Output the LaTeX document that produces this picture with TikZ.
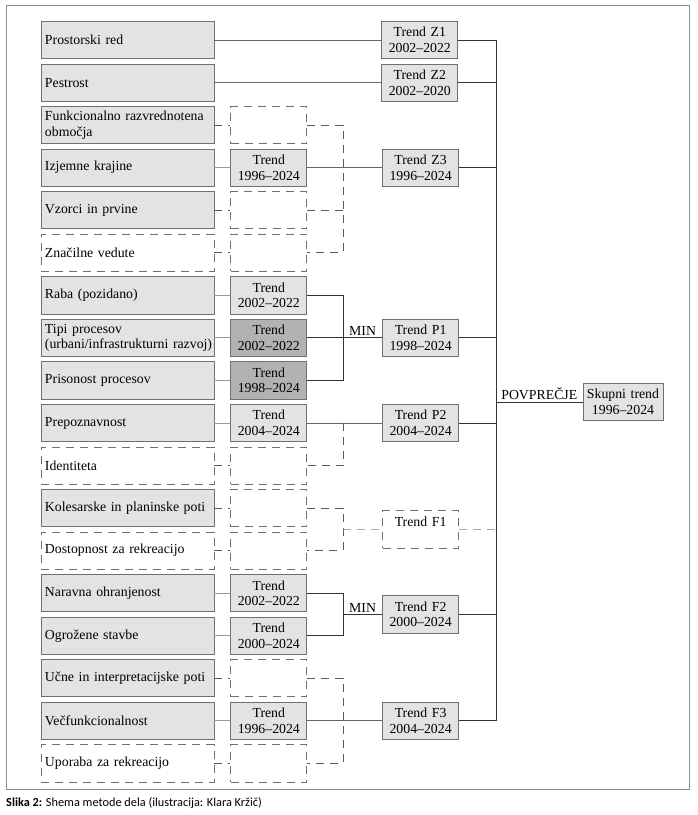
\documentclass[tikz,border=0pt]{standalone}
\usepackage{fontspec}
\setmainfont{Liberation Serif}
\newfontfamily\capfont{Carlito}
\usepackage{xcolor}
\usepackage{tikz}
\usetikzlibrary{positioning,calc}
\definecolor{edge}{HTML}{707070}
\definecolor{boxfill}{HTML}{E3E3E3}
\definecolor{boxdark}{HTML}{B2B2B2}
\definecolor{wire}{HTML}{9A9A9A}
\definecolor{trunk}{HTML}{333333}
\definecolor{ghost}{HTML}{A8A8A8}
\definecolor{frame}{HTML}{8C8C8C}

\begin{document}
\begin{tikzpicture}[
  x=1pt, y=-1pt,
  node distance=4.55pt,
  font=\fontsize{13.8}{15.5}\selectfont,
  lbox/.style={rectangle, draw=edge, fill=boxfill, line width=0.8pt, align=left, text width=165pt, inner xsep=4pt, inner ysep=1pt, minimum height=37.2pt},
  lboxdash/.style={lbox, fill=white, dash pattern=on 8pt off 6pt},
  tbox/.style={rectangle, draw=edge, fill=boxfill, line width=0.8pt, align=center, text width=72pt, inner xsep=2pt, inner ysep=1pt, minimum height=37.2pt},
  tboxdark/.style={tbox, fill=boxdark},
  tboxdash/.style={tbox, fill=white, dash pattern=on 8pt off 6pt},
  link/.style={draw=wire, line width=0.8pt},
  feed/.style={draw=trunk!75, line width=0.8pt},
  trunkline/.style={draw=trunk, line width=0.9pt},
  dashlink/.style={draw=trunk!80, line width=0.8pt, dash pattern=on 8pt off 6pt},
  ghostlink/.style={draw=ghost, line width=1pt, dash pattern=on 8pt off 6pt},
  tag/.style={inner sep=1.5pt, above}
]
\useasboundingbox (0,0) rectangle (698,815);
\draw[frame, line width=0.8pt] (6,5) rectangle (689,789);

% left column
\node[lbox] (l1) at (127.5,40) {Prostorski red};
\node[lbox, below=of l1] (l2) {Pestrost};
\node[lbox, below=of l2] (l3) {Funkcionalno razvrednotena\\območja};
\node[lbox, below=of l3] (l4) {Izjemne krajine};
\node[lbox, below=of l4] (l5) {Vzorci in prvine};
\node[lboxdash, below=of l5] (l6) {Značilne vedute};
\node[lbox, below=of l6] (l7) {Raba (pozidano)};
\node[lbox, below=of l7] (l8) {Tipi procesov\\\mbox{(urbani/infrastrukturni razvoj)}};
\node[lbox, below=of l8] (l9) {Prisonost procesov};
\node[lbox, below=of l9] (l10) {Prepoznavnost};
\node[lboxdash, below=of l10] (l11) {Identiteta};
\node[lbox, below=of l11] (l12) {Kolesarske in planinske poti};
\node[lboxdash, below=of l12] (l13) {Dostopnost za rekreacijo};
\node[lbox, below=of l13] (l14) {Naravna ohranjenost};
\node[lbox, below=of l14] (l15) {Ogrožene stavbe};
\node[lbox, below=of l15] (l16) {Učne in interpretacijske poti};
\node[lbox, below=of l16] (l17) {Večfunkcionalnost};
\node[lboxdash, below=of l17] (l18) {Uporaba za rekreacijo};

% indicator trends
\node[tboxdash, right=16pt of l3] (t3) {};
\node[tbox, right=16pt of l4] (t4) {Trend\\1996–2024};
\node[tboxdash, right=16pt of l5] (t5) {};
\node[tboxdash, right=16pt of l6] (t6) {};
\node[tbox, right=16pt of l7] (t7) {Trend\\2002–2022};
\node[tboxdark, right=16pt of l8] (t8) {Trend\\2002–2022};
\node[tboxdark, right=16pt of l9] (t9) {Trend\\1998–2024};
\node[tbox, right=16pt of l10] (t10) {Trend\\2004–2024};
\node[tboxdash, right=16pt of l11] (t11) {};
\node[tboxdash, right=16pt of l12] (t12) {};
\node[tboxdash, right=16pt of l13] (t13) {};
\node[tbox, right=16pt of l14] (t14) {Trend\\2002–2022};
\node[tbox, right=16pt of l15] (t15) {Trend\\2000–2024};
\node[tboxdash, right=16pt of l16] (t16) {};
\node[tbox, right=16pt of l17] (t17) {Trend\\1996–2024};
\node[tboxdash, right=16pt of l18] (t18) {};

% group trends
\node[tbox, right=167pt of l1] (z1) {Trend Z1\\2002–2022};
\node[tbox, right=167pt of l2] (z2) {Trend Z2\\2002–2020};
\node[tbox, right=75pt of t4] (z3) {Trend Z3\\1996–2024};
\node[tbox, right=75pt of t8] (p1) {Trend P1\\1998–2024};
\node[tbox, right=75pt of t10] (p2) {Trend P2\\2004–2024};
\node[tboxdash, anchor=west, xshift=75pt] (f1) at ($(t12.east)!0.5!(t13.east)$) {Trend F1\\\mbox{}};
\node[tbox, anchor=west, xshift=75pt] (f2) at ($(t14.east)!0.5!(t15.east)$) {Trend F2\\2000–2024};
\node[tbox, right=75pt of t17] (f3) {Trend F3\\2004–2024};
\node[tbox, text width=76pt] (total) at (623,402) {Skupni trend\\1996–2024};

\coordinate (minx) at (343,0);
\coordinate (coll) at (496,0);

% indicators to trends
\draw[feed] (l1) -- (z1);
\draw[feed] (l2) -- (z2);
\draw[dashlink] (l3) -- (t3);
\draw[link] (l4) -- (t4);
\draw[dashlink] (l5) -- (t5);
\draw[dashlink] (l6) -- (t6);
\draw[link] (l7) -- (t7);
\draw[link] (l8) -- (t8);
\draw[link] (l9) -- (t9);
\draw[link] (l10) -- (t10);
\draw[dashlink] (l11) -- (t11);
\draw[dashlink] (l12) -- (t12);
\draw[dashlink] (l13) -- (t13);
\draw[link] (l14) -- (t14);
\draw[link] (l15) -- (t15);
\draw[dashlink] (l16) -- (t16);
\draw[link] (l17) -- (t17);
\draw[dashlink] (l18) -- (t18);

% Z group
\draw[feed] (t4) -- (z3);
\draw[dashlink] (t3.east) -- (t3.east -| minx) -- (t6.east -| minx) -- (t6.east);
\draw[dashlink] (t5.east) -- (t5.east -| minx);

% P group
\draw[trunkline] (t7.east) -- (t7.east -| minx) -- (t9.east -| minx) -- (t9.east);
\draw[trunkline] (t8.east) -- (t8.east -| minx) -- node[tag] {MIN} (p1.west);
\draw[feed] (t10) -- (p2);
\draw[dashlink] (t10.east -| minx) -- (t11.east -| minx) -- (t11.east);

% F group
\draw[dashlink] (t12.east) -- (t12.east -| minx) -- (t13.east -| minx) -- (t13.east);
\draw[ghostlink] (f1.west -| minx) -- (f1.west);
\draw[ghostlink] (f1.east) -- (f1.east -| coll);
\draw[trunkline] (t14.east) -- (t14.east -| minx) -- (t15.east -| minx) -- (t15.east);
\draw[trunkline] (f2.west -| minx) -- node[tag] {MIN} (f2.west);
\draw[feed] (t17) -- (f3);
\draw[dashlink] (t16.east) -- (t16.east -| minx) -- (t18.east -| minx) -- (t18.east);

% average
\draw[trunkline] (z1.east) -- (z1.east -| coll) -- (f3.east -| coll) -- (f3.east);
\draw[trunkline] (z2.east) -- (z2.east -| coll);
\draw[trunkline] (z3.east) -- (z3.east -| coll);
\draw[trunkline] (p1.east) -- (p1.east -| coll);
\draw[trunkline] (p2.east) -- (p2.east -| coll);
\draw[trunkline] (f2.east) -- (f2.east -| coll);
\draw[trunkline] (total.west -| coll) -- node[tag] {POVPREČJE} (total.west);

\node[anchor=west, inner sep=0pt, font=\capfont\fontsize{12.3}{14}\selectfont] (caption) at (6,803) {\textbf{Slika 2:} Shema metode dela (ilustracija: Klara Kržič)};
\end{tikzpicture}
\end{document}
